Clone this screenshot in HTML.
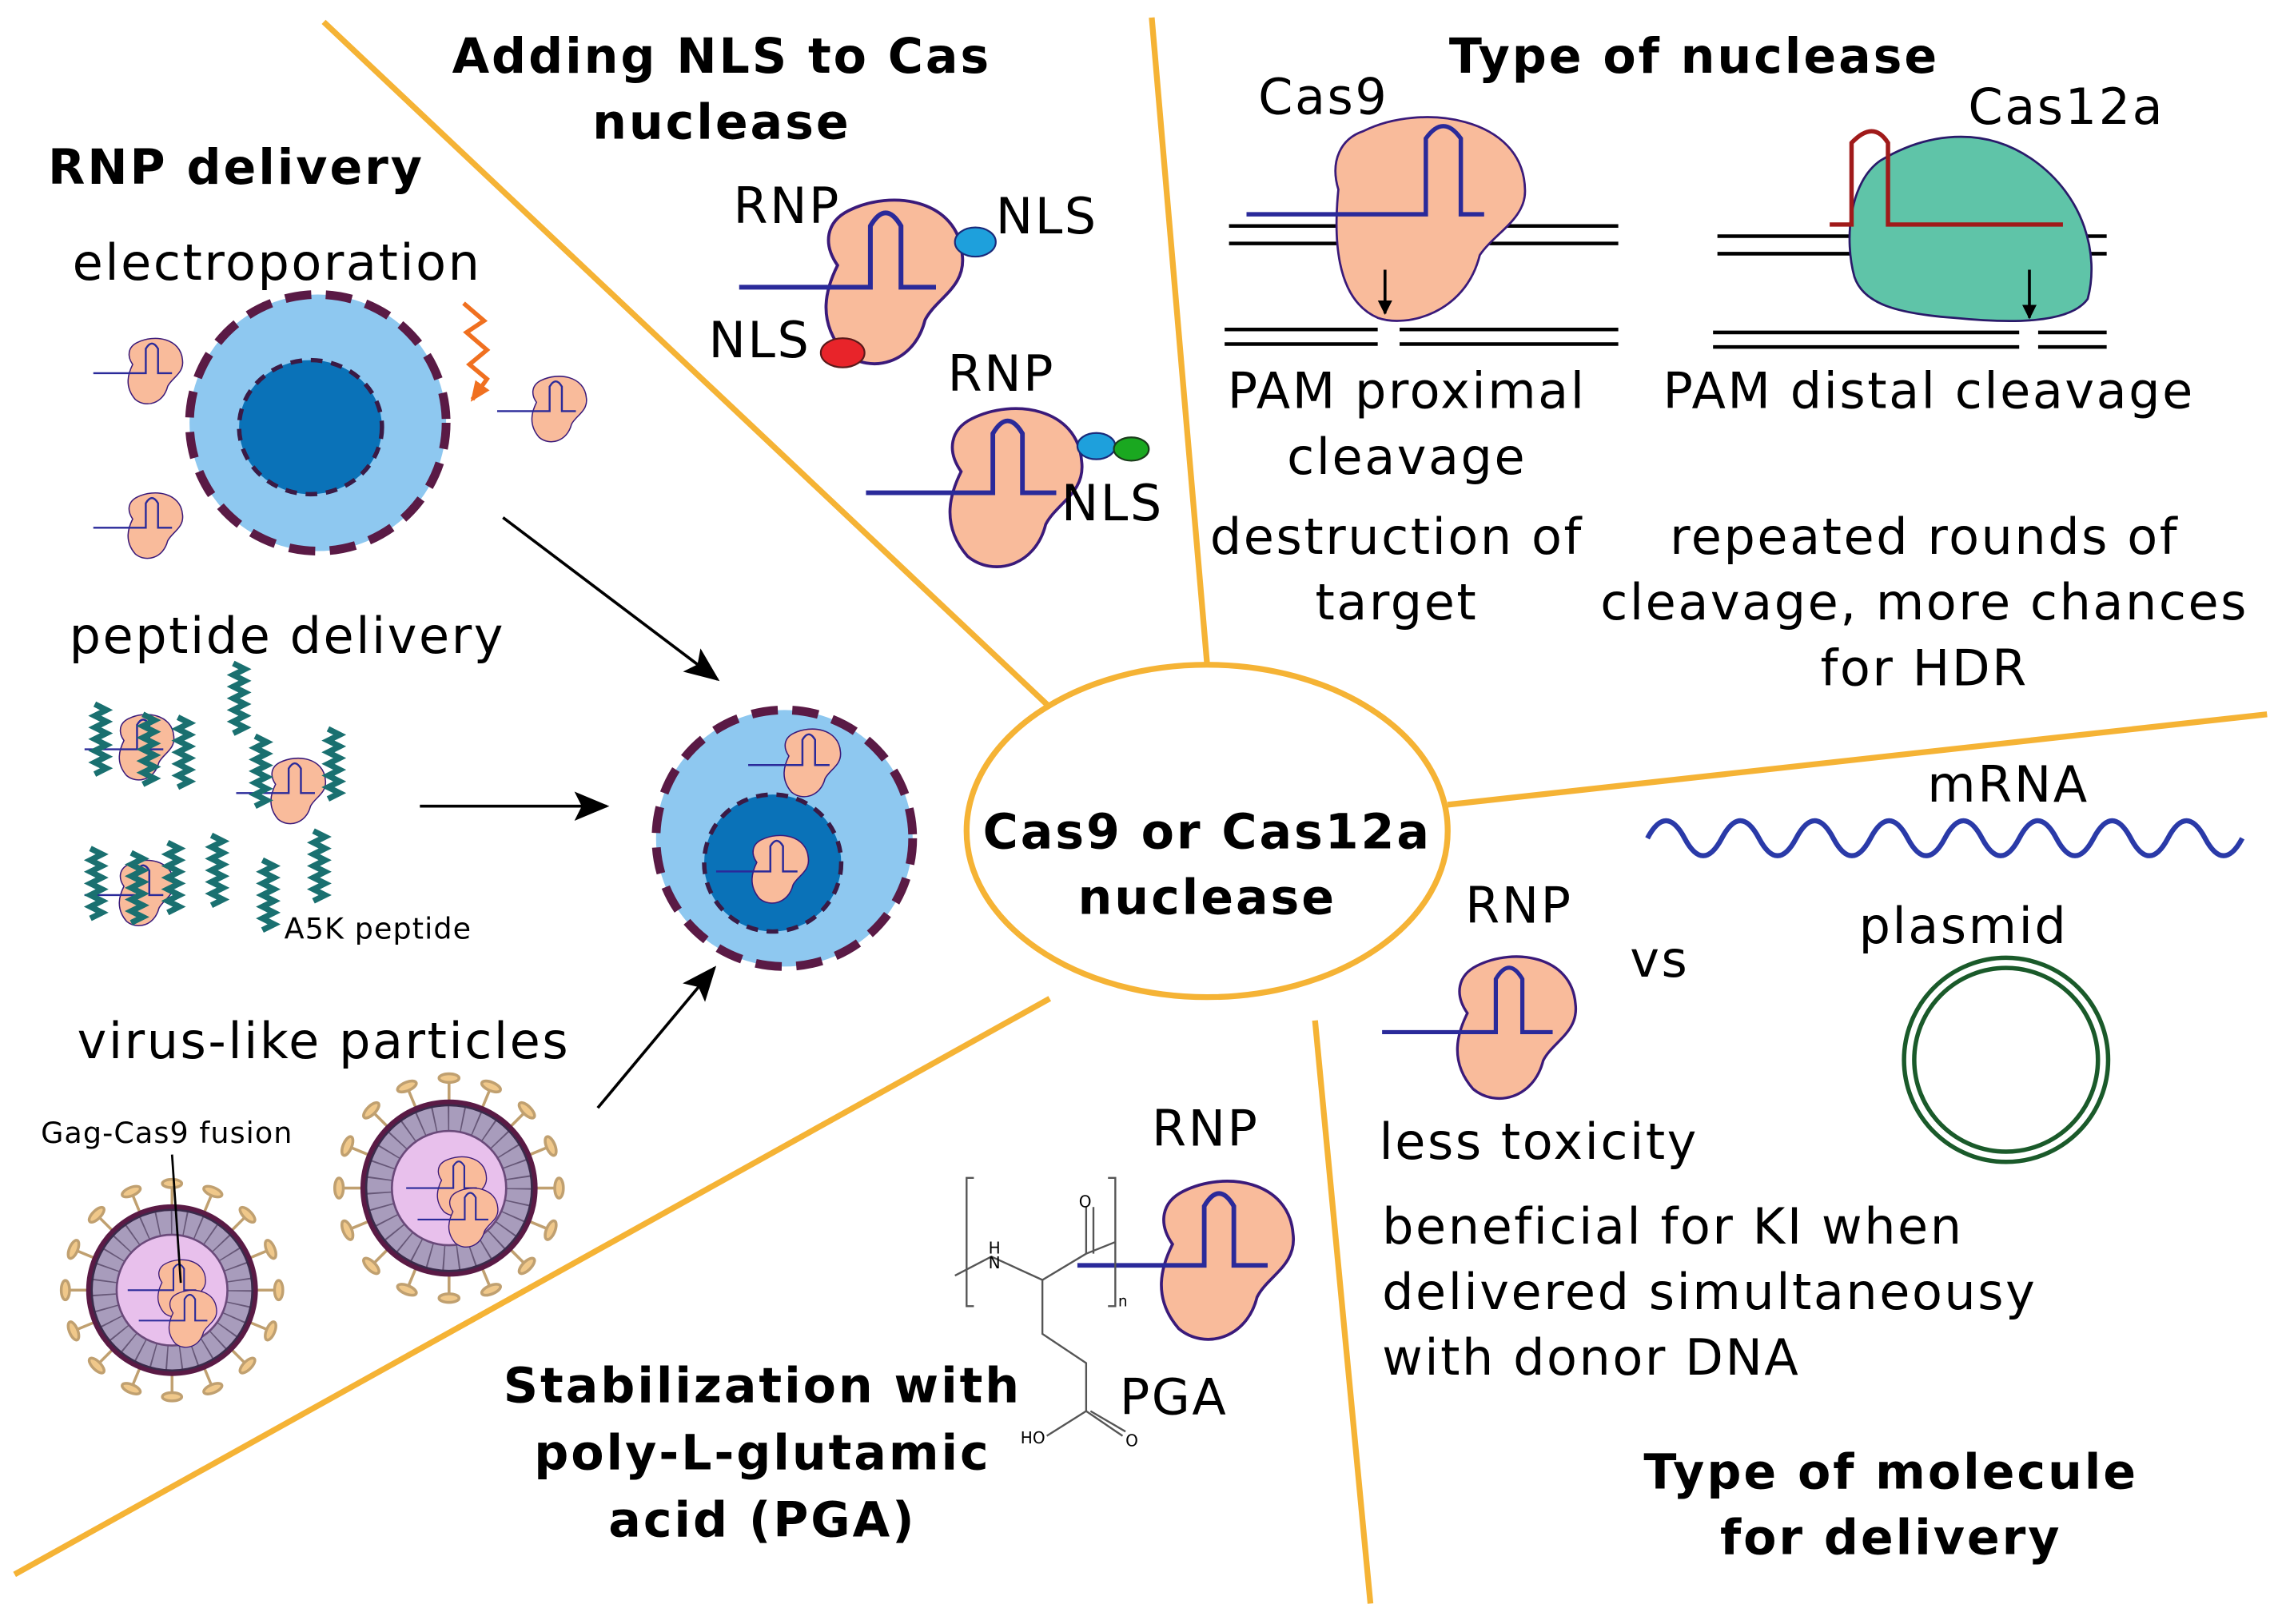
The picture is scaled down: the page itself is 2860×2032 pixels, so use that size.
<!DOCTYPE html>
<html><head><meta charset="utf-8"><style>
html,body{margin:0;padding:0;background:#fff}
svg{display:block}
text{font-family:"DejaVu Sans","Liberation Sans",sans-serif;fill:#000}
.h{font-weight:bold;font-size:33px;letter-spacing:1.6px}
.t{font-size:34px;letter-spacing:1.4px}
</style></head><body>
<svg width="2860" height="2032" viewBox="0 0 1568 1114" xmlns="http://www.w3.org/2000/svg">
<defs>
<g id="rnp">
<path d="M10,5 C30,-5 60,0 62,25 C64,40 50,45 45,55 C40,75 20,80 8,70 C-5,55 0,40 5,30 C-2,20 0,10 10,5Z" fill="#f9bb9b" stroke="#3a1a7a" stroke-width="1.4"/>
<path d="M-40,40 L20,40 L20,12 Q27,0 34,12 L34,40 L50,40" fill="none" stroke="#2a2a9a" stroke-width="2.2"/>
</g>
<g id="helix" fill="none" stroke="#1a7070" stroke-width="4">
<path d="M0,0 l8,4 l-8,4 l8,4 l-8,4 l8,4 l-8,4 l8,4 l-8,4 l8,4 l-8,4 l8,4 l-8,4"/>
</g>
<g id="spk"><line x1="0" y1="-60" x2="0" y2="-76"/><ellipse cx="0" cy="-77" rx="7" ry="3"/></g>
<g id="vlp">
<g stroke="#c0a070" stroke-width="2" fill="#f0c88a">
<use href="#spk"/>
<use href="#spk" transform="rotate(22.5)"/><use href="#spk" transform="rotate(45)"/><use href="#spk" transform="rotate(67.5)"/>
<use href="#spk" transform="rotate(90)"/><use href="#spk" transform="rotate(112.5)"/><use href="#spk" transform="rotate(135)"/>
<use href="#spk" transform="rotate(157.5)"/><use href="#spk" transform="rotate(180)"/><use href="#spk" transform="rotate(202.5)"/>
<use href="#spk" transform="rotate(225)"/><use href="#spk" transform="rotate(247.5)"/><use href="#spk" transform="rotate(270)"/>
<use href="#spk" transform="rotate(292.5)"/><use href="#spk" transform="rotate(315)"/><use href="#spk" transform="rotate(337.5)"/>
</g>
<circle r="62" fill="#5a1a45"/>
<circle r="58" fill="#a89cbc" stroke="#3a2a4a" stroke-width="1.5"/>
<circle r="49" fill="none" stroke="#3a2a4a" stroke-width="18" stroke-dasharray="1,9" opacity="0.6"/>
<circle r="40" fill="#e8c0ec" stroke="#6a4a7a" stroke-width="1.5"/>
</g>
<marker id="ar" markerWidth="10" markerHeight="10" refX="9" refY="5" orient="auto" markerUnits="userSpaceOnUse" viewBox="0 0 10 10"><path d="M0,0 L10,5 L0,10 Z" fill="#000"/></marker>
<marker id="ar2" markerWidth="24" markerHeight="20" refX="22" refY="10" orient="auto" markerUnits="userSpaceOnUse"><path d="M0,0 L24,10 L0,20 L5,10 Z" fill="#000"/></marker>
<marker id="aro" markerWidth="14" markerHeight="12" refX="12" refY="6" orient="auto" markerUnits="userSpaceOnUse"><path d="M0,0 L14,6 L0,12 Z" fill="#f07020"/></marker>
</defs>

<g stroke="#f5b335" stroke-width="4" fill="none">
<line x1="222" y1="15" x2="720" y2="485"/>
<line x1="790" y1="12" x2="828" y2="456"/>
<line x1="993" y1="552" x2="1555" y2="490"/>
<line x1="902" y1="700" x2="940" y2="1100"/>
<line x1="720" y1="685" x2="10" y2="1080"/>
<ellipse cx="828" cy="570" rx="165" ry="114"/>
</g>
<text class="h" x="828" y="582" text-anchor="middle">Cas9 or Cas12a</text>
<text class="h" x="828" y="627" text-anchor="middle">nuclease</text>

<text class="h" x="162" y="126" text-anchor="middle">RNP delivery</text>
<text class="t" x="190" y="192" text-anchor="middle">electroporation</text>
<circle cx="218" cy="290" r="88" fill="#8ec8f0" stroke="#5a1a45" stroke-width="6" stroke-dasharray="18,10"/>
<ellipse cx="213" cy="293" rx="49" ry="46" fill="#0a72b8" stroke="#3a1a45" stroke-width="3" stroke-dasharray="8,6"/>
<path d="M318,208 l14,12 l-12,8 l14,12 l-12,10 l12,10 l-10,14" fill="none" stroke="#f07020" stroke-width="3" marker-end="url(#aro)"/>
<use href="#rnp" transform="translate(88,232) scale(0.6)"/>
<use href="#rnp" transform="translate(88,338) scale(0.6)"/>
<use href="#rnp" transform="translate(365,258) scale(0.6)"/>
<line x1="345" y1="355" x2="492" y2="466" stroke="#000" stroke-width="2" marker-end="url(#ar2)"/>

<text class="t" x="197" y="448" text-anchor="middle">peptide delivery</text>
<use href="#rnp" transform="translate(82,490) scale(0.6)"/>
<use href="#rnp" transform="translate(186,520) scale(0.6)"/>
<use href="#rnp" transform="translate(82,590) scale(0.6)"/>
<use href="#helix" transform="translate(65,483)"/>
<use href="#helix" transform="translate(98,490)"/>
<use href="#helix" transform="translate(122,492)"/>
<use href="#helix" transform="translate(160,455)"/>
<use href="#helix" transform="translate(175,505)"/>
<use href="#helix" transform="translate(225,500)"/>
<use href="#helix" transform="translate(62,582)"/>
<use href="#helix" transform="translate(90,585)"/>
<use href="#helix" transform="translate(115,578)"/>
<use href="#helix" transform="translate(145,573)"/>
<use href="#helix" transform="translate(180,590)"/>
<use href="#helix" transform="translate(215,570)"/>
<text x="195" y="644" font-size="20" letter-spacing="0.6">A5K peptide</text>
<line x1="288" y1="553" x2="416" y2="553" stroke="#000" stroke-width="2" marker-end="url(#ar2)"/>

<text class="t" x="222" y="726" text-anchor="middle">virus-like particles</text>
<line x1="410" y1="760" x2="490" y2="664" stroke="#000" stroke-width="2" marker-end="url(#ar2)"/>
<g transform="translate(118,885) scale(0.95)">
<use href="#vlp"/>
<use href="#rnp" transform="translate(-10,-22) scale(0.55)"/>
<use href="#rnp" transform="translate(-2,0) scale(0.55)"/>
</g>
<g transform="translate(308,815) scale(0.98)">
<use href="#vlp"/>
<use href="#rnp" transform="translate(-8,-22) scale(0.55)"/>
<use href="#rnp" transform="translate(0,0) scale(0.55)"/>
</g>
<text x="28" y="784" font-size="20" letter-spacing="0.6">Gag-Cas9 fusion</text>
<line x1="118" y1="792" x2="124" y2="880" stroke="#000" stroke-width="1.5"/>

<circle cx="538" cy="575" r="88" fill="#8ec8f0" stroke="#5a1a45" stroke-width="6" stroke-dasharray="18,10"/>
<circle cx="530" cy="592" r="47" fill="#0a72b8" stroke="#3a1a45" stroke-width="3" stroke-dasharray="8,6"/>
<use href="#rnp" transform="translate(538,500) scale(0.62)"/>
<use href="#rnp" transform="translate(516,573) scale(0.62)"/>

<text class="h" x="495" y="50" text-anchor="middle">Adding NLS to Cas</text>
<text class="h" x="495" y="95" text-anchor="middle">nuclease</text>
<text class="t" x="503" y="153">RNP</text>
<use href="#rnp" transform="translate(567,137) scale(1.5)"/>
<ellipse cx="669" cy="166" rx="14" ry="10" fill="#1ea0dc" stroke="#1a2a7a" stroke-width="1.2"/>
<ellipse cx="578" cy="242" rx="15" ry="10" fill="#e8242a" stroke="#5a1a1a" stroke-width="1.2"/>
<text class="t" x="683" y="160">NLS</text>
<text class="t" x="486" y="245">NLS</text>
<text class="t" x="650" y="268">RNP</text>
<use href="#rnp" transform="translate(652,280) scale(1.45)"/>
<ellipse cx="752" cy="306" rx="13" ry="9" fill="#1ea0dc" stroke="#1a2a7a" stroke-width="1.2"/>
<ellipse cx="776" cy="308" rx="12" ry="8" fill="#1aa820" stroke="#1a3a1a" stroke-width="1.2"/>
<text class="t" x="728" y="357">NLS</text>

<text class="h" x="1162" y="50" text-anchor="middle">Type of nuclease</text>
<text class="t" x="863" y="78">Cas9</text>
<g stroke="#000" stroke-width="2.5">
<line x1="843" y1="155" x2="1110" y2="155"/><line x1="843" y1="167" x2="1110" y2="167"/>
<line x1="840" y1="226" x2="945" y2="226"/><line x1="840" y1="236" x2="945" y2="236"/>
<line x1="960" y1="226" x2="1110" y2="226"/><line x1="960" y1="236" x2="1110" y2="236"/>
</g>
<path d="M935,90 C975,70 1045,80 1046,130 C1047,150 1025,160 1015,175 C1005,215 965,225 945,218 C915,205 915,160 918,130 C912,110 920,95 935,90Z" fill="#f9bb9b" stroke="#3a1a7a" stroke-width="1.5"/>
<path d="M855,147 L978,147 L978,95 Q990,78 1002,95 L1002,147 L1018,147" fill="none" stroke="#2a2a9a" stroke-width="3"/>
<line x1="950" y1="185" x2="950" y2="215" stroke="#000" stroke-width="2" marker-end="url(#ar)"/>
<text class="t" x="965" y="280" text-anchor="middle">PAM proximal</text>
<text class="t" x="965" y="325" text-anchor="middle">cleavage</text>
<text class="t" x="958" y="380" text-anchor="middle">destruction of</text>
<text class="t" x="958" y="425" text-anchor="middle">target</text>

<text class="t" x="1350" y="85">Cas12a</text>
<g stroke="#000" stroke-width="2.5">
<line x1="1178" y1="162" x2="1445" y2="162"/><line x1="1178" y1="174" x2="1445" y2="174"/>
<line x1="1175" y1="228" x2="1385" y2="228"/><line x1="1175" y1="238" x2="1385" y2="238"/>
<line x1="1398" y1="228" x2="1445" y2="228"/><line x1="1398" y1="238" x2="1445" y2="238"/>
</g>
<path d="M1290,110 C1320,92 1360,85 1395,110 C1430,135 1440,175 1432,205 C1420,222 1380,222 1340,218 C1300,215 1278,208 1272,190 C1265,165 1268,125 1290,110Z" fill="#5fc4a8" stroke="#2a1a6a" stroke-width="1.5"/>
<path d="M1255,154 L1270,154 L1270,98 Q1285,82 1295,98 L1295,154 L1415,154" fill="none" stroke="#a01a1a" stroke-width="3"/>
<line x1="1392" y1="185" x2="1392" y2="218" stroke="#000" stroke-width="2" marker-end="url(#ar)"/>
<text class="t" x="1323" y="280" text-anchor="middle">PAM distal cleavage</text>
<text class="t" x="1320" y="380" text-anchor="middle">repeated rounds of</text>
<text class="t" x="1320" y="425" text-anchor="middle">cleavage, more chances</text>
<text class="t" x="1320" y="470" text-anchor="middle">for HDR</text>

<text class="t" x="1322" y="550">mRNA</text>
<path d="M1130,575 q12.75,-24 25.5,0 t25.5,0 t25.5,0 t25.5,0 t25.5,0 t25.5,0 t25.5,0 t25.5,0 t25.5,0 t25.5,0 t25.5,0 t25.5,0 t25.5,0 t25.5,0 t25.5,0 t25.5,0" fill="none" stroke="#2a3aa8" stroke-width="3.5"/>
<text class="t" x="1275" y="647">plasmid</text>
<circle cx="1376" cy="727" r="70" fill="none" stroke="#1a5a2a" stroke-width="3"/>
<circle cx="1376" cy="727" r="63" fill="none" stroke="#1a5a2a" stroke-width="3"/>
<text class="t" x="1005" y="633">RNP</text>
<use href="#rnp" transform="translate(1000,656) scale(1.3)"/>
<text class="t" x="1118" y="670">vs</text>
<text class="t" x="946" y="795">less toxicity</text>
<text class="t" x="948" y="853">beneficial for KI when</text>
<text class="t" x="948" y="898">delivered simultaneousy</text>
<text class="t" x="948" y="943">with donor DNA</text>
<text class="h" x="1297" y="1021" text-anchor="middle">Type of molecule</text>
<text class="h" x="1297" y="1066" text-anchor="middle">for delivery</text>

<text class="t" x="790" y="786">RNP</text>
<use href="#rnp" transform="translate(797,810) scale(1.45)"/>
<g stroke="#555" stroke-width="1.3" fill="none">
<path d="M668,808 l-5,0 l0,88 l5,0"/>
<path d="M760,808 l5,0 l0,88 l-5,0"/>
<path d="M655,875 L680,862 L715,878 L745,860 L745,828 M750,860 L750,828 M745,860 L765,852"/>
<path d="M715,878 L715,915 L745,935 L745,968 L770,985 M745,968 L718,985 M748,968 L772,982"/>
</g>
<text x="740" y="828" font-size="11" fill="#444">O</text>
<text x="678" y="860" font-size="11" fill="#444">H</text>
<text x="678" y="870" font-size="11" fill="#444">N</text>
<text x="767" y="896" font-size="10" fill="#444">n</text>
<text x="700" y="990" font-size="11" fill="#444">HO</text>
<text x="772" y="992" font-size="11" fill="#444">O</text>
<text class="t" x="768" y="970">PGA</text>
<text class="h" x="523" y="962" text-anchor="middle">Stabilization with</text>
<text class="h" x="523" y="1008" text-anchor="middle">poly-L-glutamic</text>
<text class="h" x="523" y="1054" text-anchor="middle">acid (PGA)</text>
</svg>
</body></html>
